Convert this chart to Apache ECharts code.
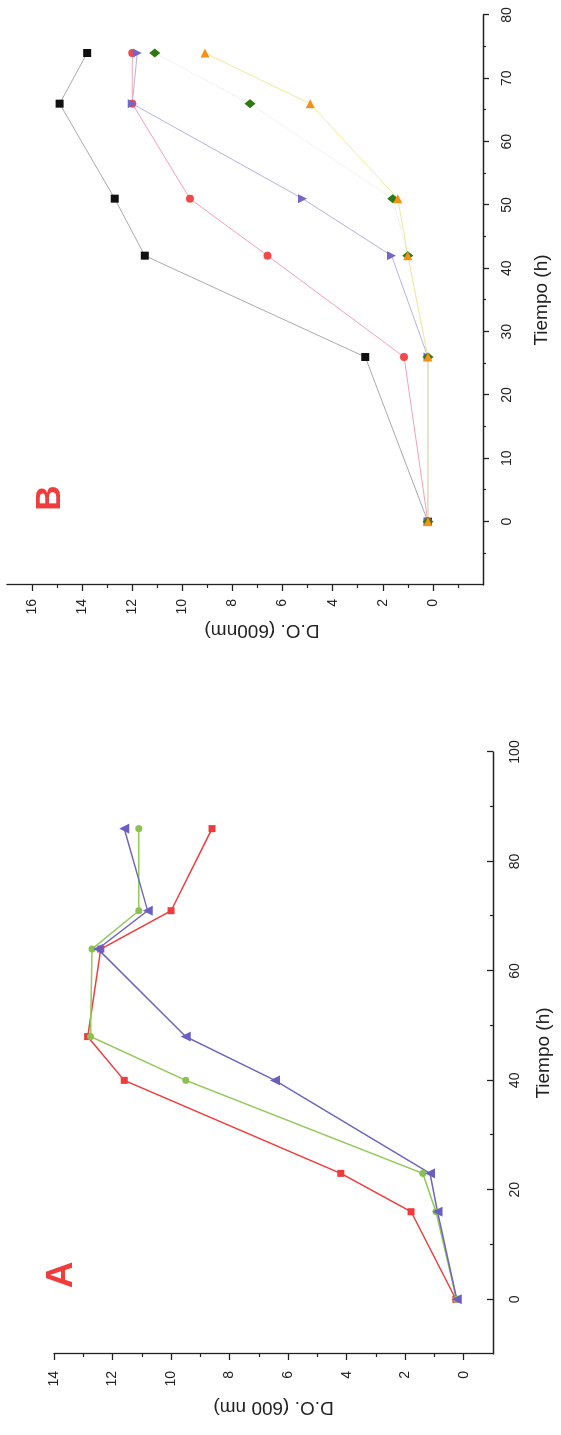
<!DOCTYPE html>
<html>
<head>
<meta charset="utf-8">
<script src="https://cdn.jsdelivr.net/npm/echarts@6/dist/echarts.min.js"></script>
<style>
  html, body { margin: 0; padding: 0; background: #fff; overflow: hidden; }
  /* the figure is drawn upright and then turned a quarter left, like the scan */
  #chart {
    position: absolute; left: 0; top: 0;
    width: 1435px; height: 561px;
    transform-origin: 0 0;
    transform: translateY(1435px) rotate(-90deg);
  }
</style>
</head>
<body>
<div id="chart"></div>
<script>
// ---- panel A ----
const timeA = [0, 16, 23, 40, 48, 64, 71, 86];
const redA = [0.27, 1.8, 4.2, 11.6, 12.85, 12.4, 10.0, 8.6];
const greenA = [0.25, 0.95, 1.4, 9.5, 12.75, 12.7, 11.1, 11.1];
const blueA = [0.24, 0.9, 1.15, 6.45, 9.5, 12.5, 10.8, 11.6];
const timeTicksA = [0, 20, 40, 60, 80, 100];
const timeMinorA = [10, 30, 50, 70, 90];
const doTicksA = [0, 2, 4, 6, 8, 10, 12, 14];
const doMinorA = [1, 3, 5, 7, 9, 11, 13];

// ---- panel B ----
const timeB = [0, 26, 42, 51, 66, 74];
const blackB = [0.2, 2.7, 11.5, 12.7, 14.9, 13.8];
const redB = [0.2, 1.15, 6.6, 9.7, 12.0, 12.0];
const blueB = [0.2, 0.2, 1.65, 5.2, 12.0, 11.8];
const greenB = [0.2, 0.2, 1.0, 1.6, 7.3, 11.1];
const orangeB = [0.2, 0.2, 1.0, 1.4, 4.9, 9.1];
const timeTicksB = [0, 10, 20, 30, 40, 50, 60, 70, 80];
const timeMinorB = [-5, 5, 15, 25, 35, 45, 55, 65, 75];
const doTicksB = [0, 2, 4, 6, 8, 10, 12, 14, 16];
const doMinorB = [-1, 1, 3, 5, 7, 9, 11, 13, 15];

const FONT = 'Liberation Sans, Arial, sans-serif';
const pairs = (xs, ys) => xs.map((x, i) => [x, ys[i]]);

function mainAxis(grid, min, max, ticks, inside, margin, name, gap, extra) {
  return Object.assign({
    type: 'value', gridIndex: grid, min: min, max: max,
    name: name, nameLocation: 'middle', nameGap: gap,
    nameTextStyle: {fontFamily: FONT, fontSize: 19, color: '#222'},
    axisLine: {show: true, onZero: false, lineStyle: {color: '#222', width: 1.3}},
    axisTick: {show: true, inside: inside, length: 6, customValues: ticks, lineStyle: {color: '#222', width: 1.3}},
    axisLabel: {show: true, customValues: ticks, margin: margin, fontFamily: FONT, fontSize: 14, color: '#222'},
    splitLine: {show: false}
  }, extra || {});
}
function minorAxis(grid, min, max, ticks, inside, extra) {
  return Object.assign({
    type: 'value', gridIndex: grid, min: min, max: max,
    axisLine: {show: false, onZero: false},
    axisTick: {show: true, inside: inside, length: 3, customValues: ticks, lineStyle: {color: '#222', width: 1.2}},
    axisLabel: {show: false},
    splitLine: {show: false}
  }, extra || {});
}
function line(name, xi, xs, ys, color, lineColor, symbol, size, width, extra) {
  return Object.assign({
    name: name, type: 'line', xAxisIndex: xi, yAxisIndex: xi,
    data: pairs(xs, ys),
    symbol: symbol, symbolSize: size,
    itemStyle: {color: color},
    lineStyle: {color: lineColor, width: width},
    animation: false
  }, extra || {});
}

const chart = echarts.init(document.getElementById('chart'));
chart.setOption({
  backgroundColor: '#fff',
  animation: false,
  grid: [
    {left: 81, top: 54, width: 602, height: 439},
    {left: 850, top: 7, width: 570, height: 476}
  ],
  xAxis: [
    mainAxis(0, -10, 100, timeTicksA, true, 15, 'Tiempo (h)', 41, {position: 'bottom'}),
    minorAxis(0, -10, 100, timeMinorA, true, {position: 'bottom'}),
    mainAxis(1, -10, 80, timeTicksB, false, 17, 'Tiempo (h)', 49, {position: 'bottom'}),
    minorAxis(1, -10, 80, timeMinorB, false, {position: 'bottom'})
  ],
  yAxis: [
    mainAxis(0, -1, 14, doTicksA, false, 17, 'D.O. (600 nm)', 44, {position: 'left'}),
    minorAxis(0, -1, 14, doMinorA, false, {position: 'left'}),
    mainAxis(1, -2, 17, doTicksB, false, 14, 'D.O. (600nm)', 36, {position: 'left', nameTextStyle: {fontFamily: FONT, fontSize: 19, color: '#222', padding: [0, 34, 0, 0]}}),
    minorAxis(1, -2, 17, doMinorB, false, {position: 'left'})
  ],
  graphic: [
    {type: 'text', x: 160, y: 62, style: {text: 'A', fill: '#f03c3c', font: 'bold 37px ' + FONT, textAlign: 'center', textVerticalAlign: 'middle'}},
    {type: 'text', x: 937, y: 50, style: {text: 'B', fill: '#f03c3c', font: 'bold 35px ' + FONT, textAlign: 'center', textVerticalAlign: 'middle'}}
  ],
  series: [
    line('A rojo', 0, timeA, redA, '#ef3b3b', '#ef4040', 'rect', 7, 1.5),
    line('A verde', 0, timeA, greenA, '#8cc152', '#95c95c', 'circle', 7, 1.5),
    line('A azul', 0, timeA, blueA, '#6a5fc1', '#6f66c0', 'triangle', 10, 1.5),

    line('B negro', 2, timeB, blackB, '#111111', '#a9a9b2', 'rect', 8, 1),
    line('B rojo', 2, timeB, redB, '#f24a4a', '#f2a2b6', 'circle', 8, 1),
    line('B azul', 2, timeB, blueB, '#7466c8', '#b4b4e0', 'triangle', 9, 1, {symbolRotate: 180}),
    line('B verde', 2, timeB, greenB, '#2d7a12', '#e0e8d6', 'diamond', [9, 11], 1, {lineStyle: {color: '#e2e8dc', width: 1, type: 'dotted'}}),
    line('B naranja', 2, timeB, orangeB, '#f39214', '#f0ea9c', 'triangle', 9, 1, {symbolRotate: -90})
  ]
});
</script>
</body>
</html>
